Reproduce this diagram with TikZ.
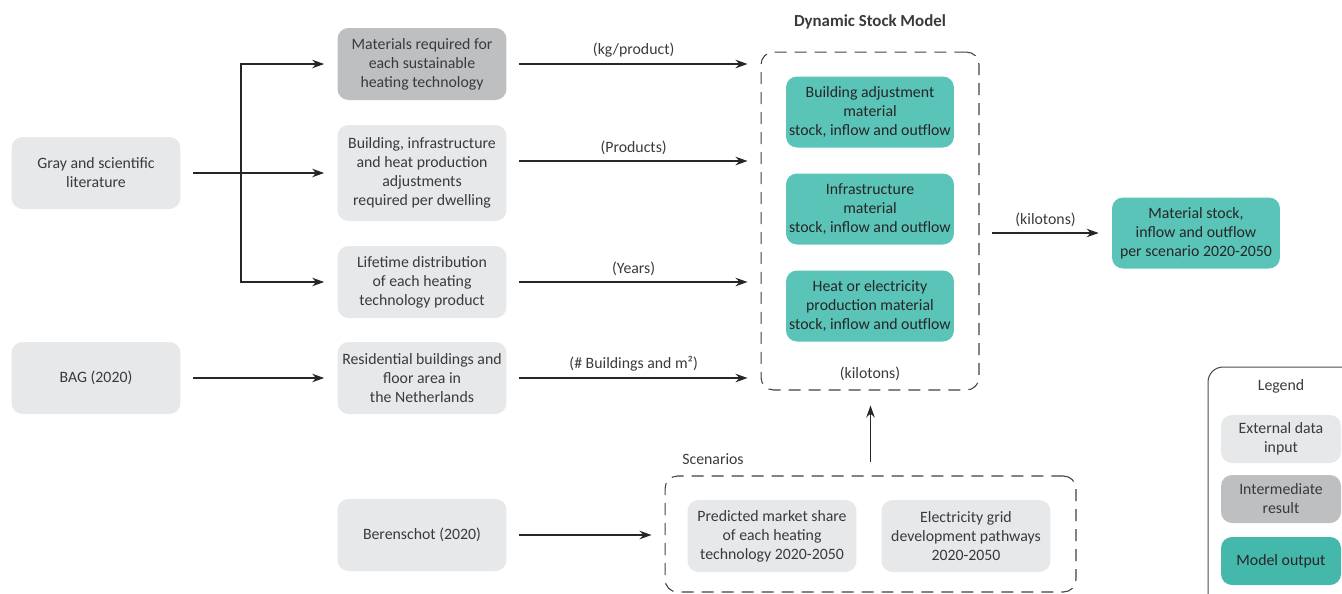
\documentclass[tikz,border=0pt]{standalone}
\usepackage{fontspec}
\setmainfont{Carlito}
\usepackage{tikz}
\usetikzlibrary{positioning, calc, arrows.meta}
\definecolor{inputgray}{HTML}{E7E8EA}
\definecolor{interdark}{HTML}{BEBFC1}
\definecolor{modelteal}{HTML}{5BC4B9}
\definecolor{legendteal}{HTML}{45B8AC}
\definecolor{textgray}{HTML}{3A3A3A}

\begin{document}
\begin{tikzpicture}[x=0.02cm, y=-0.02cm, font=\fontsize{9}{10.8}\selectfont, text=textgray]
				\tikzstyle{datainput}=[draw=none, rounded corners=0.22cm, minimum width=3.38cm, minimum height=1.44cm, fill=inputgray, align=center, inner sep=1pt]
				\tikzstyle{interresult}=[datainput, fill=interdark]
				\tikzstyle{modeloutput}=[datainput, fill=modelteal, minimum width=3.36cm, minimum height=1.42cm, text=black!85]
				\tikzstyle{dashframe}=[draw=black!75, line width=0.6pt, dash pattern=on 0.24cm off 0.16cm, rounded corners=0.25cm]
				\tikzstyle{flow}=[-{Stealth[length=2.4mm, width=1.7mm]}, line width=0.7pt, draw=black!85, shorten <=0.25cm, shorten >=0.26cm]

				\clip (0,0) rectangle (1342,593);

				% external data
				\node (lit) at (96,173) [datainput] {Gray and scientific\\literature};
				\node (bag) at (96,378) [datainput] {BAG (2020)};

				\node (matreq) at (422,64) [interresult] {Materials required for\\each sustainable\\heating technology};
				\node (adjust) at (422,173) [datainput, minimum height=1.92cm] {Building, infrastructure\\and heat production\\adjustments\\required per dwelling};
				\node (lifetime) at (422,282) [datainput] {Lifetime distribution\\of each heating\\technology product};
				\node (resid) at (422,378) [datainput] {Residential buildings and\\floor area in\\the Netherlands};
				\node (beren) at (422,535) [datainput] {Berenschot (2020)};

				% dynamic stock model
				\node (dsm) at (870,221) [dashframe, minimum width=4.36cm, minimum height=6.76cm] {};
				\node (dsmtitle) at (870,22) {\fontsize{9.6}{11}\selectfont\textbf{Dynamic Stock Model}};
				\node (build) at (870,112) [modeloutput] {Building adjustment\\material\\stock, inflow and outflow};
				\node (infra) at (870,209) [modeloutput] {Infrastructure\\material\\stock, inflow and outflow};
				\node (heat) at (870,306) [modeloutput] {Heat or electricity\\production material\\stock, inflow and outflow};
				\node (dsmunit) at (870,374) {(kilotons)};

				\node (result) at (1196,233) [modeloutput] {Material stock,\\inflow and outflow\\per scenario 2020-2050};

				% scenarios
				\node (scen) at (870.5,534) [dashframe, minimum width=8.22cm, minimum height=2.32cm] {};
				\node (scenlabel) at (713,459) {Scenarios};
				\node (share) at (772,536) [datainput] {Predicted market share\\of each heating\\technology 2020-2050};
				\node (grid) at (966,536) [datainput] {Electricity grid\\development pathways\\2020-2050};

				% legend
				\node (legend) at (1283,492) [draw=black!70, line width=0.6pt, rounded corners=0.3cm, minimum width=3.0cm, minimum height=5.0cm] {};
				\node (legendtitle) at (1281,386) {Legend};
				\node (lgin) at (1281,439) [datainput, minimum width=2.4cm, minimum height=0.96cm] {External data\\input};
				\node (lgint) at (1281,499) [interresult, minimum width=2.4cm, minimum height=0.96cm] {Intermediate\\result};
				\node (lgout) at (1281,561) [modeloutput, fill=legendteal, minimum width=2.4cm, minimum height=0.96cm] {Model output};

				% connectors
				\coordinate (split) at (241,173);
				\draw [flow] (lit) -- (adjust);
				\draw [flow, shorten <=0pt] (split) |- (matreq);
				\draw [flow, shorten <=0pt] (split) |- (lifetime);
				\draw [flow] (bag) -- (resid);

				\draw [flow] (matreq.east) -- (matreq.east -| dsm.west) node[midway, above] {(kg/product)};
				\draw [flow] ([yshift=0.24cm]adjust.east) -- ([yshift=0.24cm]adjust.east -| dsm.west) node[midway, above] {(Products)};
				\draw [flow] (lifetime.east) -- (lifetime.east -| dsm.west) node[midway, above] {(Years)};
				\draw [flow] (resid.east) -- (resid.east -| dsm.west) node[midway, above] {(\# Buildings and m²)};

				\draw [flow] (dsm.east |- result.west) -- (result.west) node[midway, above] {(kilotons)};
				\draw [flow] (beren.east) -- (beren.east -| scen.west);
				\draw [flow, shorten <=0.28cm, shorten >=0.3cm] (scen.north) -- (scen.north |- dsm.south);

\end{tikzpicture}
\end{document}
